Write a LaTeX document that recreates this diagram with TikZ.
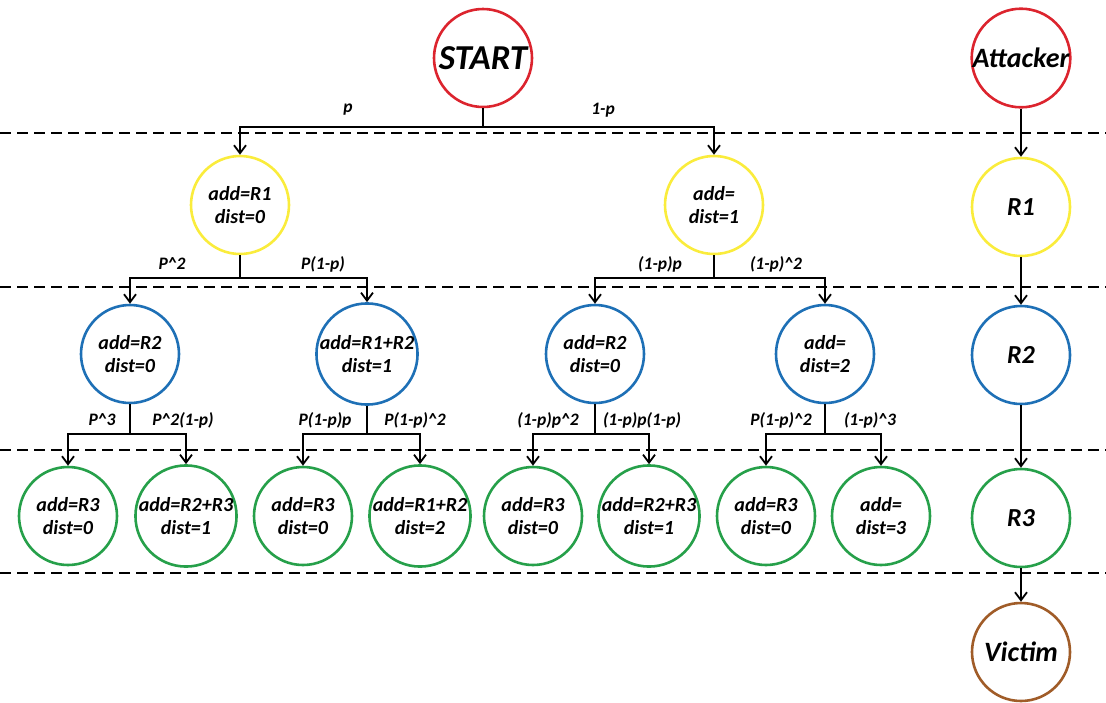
\documentclass[tikz,border=0pt]{standalone}
\usepackage{fontspec}
\setmainfont{Carlito}
\usetikzlibrary{arrows.meta}
\definecolor{cred}{RGB}{220,36,46}
\definecolor{cyel}{RGB}{250,236,60}
\definecolor{cblue}{RGB}{30,112,182}
\definecolor{cgreen}{RGB}{38,160,74}
\definecolor{cbrown}{RGB}{160,92,40}
\newcommand\crt{\textasciicircum}
\begin{document}
\begin{tikzpicture}[x=1pt,y=-1pt,
  state/.style={circle,draw,line width=2.6pt,minimum size=98pt,inner sep=0pt,
    align=center,font=\fontsize{20}{23}\selectfont\bfseries\itshape},
  big/.style={font=\fontsize{35}{35}\selectfont\bfseries\itshape},
  mid/.style={font=\fontsize{26}{26}\selectfont\bfseries\itshape},
  wide/.style={font=\fontsize{28}{28}\selectfont\bfseries\itshape},
  prob/.style={font=\fontsize{17.5}{17.5}\selectfont\bfseries\itshape},
  link/.style={line width=1.8pt},
  arr/.style={line width=1.8pt,-{Straight Barb[length=8pt,width=12pt,line width=1.8pt]}},
  sep/.style={line width=1.8pt,dash pattern=on 10.5pt off 6.5pt}]
\useasboundingbox (0,0) rectangle (1106,702);

% level separators
\foreach \yy in {133,287,450,573} \draw[sep] (0,\yy) -- (1106,\yy);

% tree nodes
\node[state,draw=cred,big] (start) at (483,58) {START};
\node[state,draw=cyel] (y1) at (240,205) {add=R1\\dist=0};
\node[state,draw=cyel] (y2) at (714,205) {add=\\dist=1};

\node[state,draw=cblue] (b1) at (130,354) {add=R2\\dist=0};
\node[state,draw=cblue] (b2) at (367,354) {add=R1+R2\\dist=1};
\node[state,draw=cblue] (b3) at (595,354) {add=R2\\dist=0};
\node[state,draw=cblue] (b4) at (825,354) {add=\\dist=2};

\node[state,draw=cgreen] (g1) at (68,516) {add=R3\\dist=0};
\node[state,draw=cgreen] (g2) at (186,516) {add=R2+R3\\dist=1};
\node[state,draw=cgreen] (g3) at (303,516) {add=R3\\dist=0};
\node[state,draw=cgreen] (g4) at (420,516) {add=R1+R2\\dist=2};
\node[state,draw=cgreen] (g5) at (533,516) {add=R3\\dist=0};
\node[state,draw=cgreen] (g6) at (649,516) {add=R2+R3\\dist=1};
\node[state,draw=cgreen] (g7) at (766,516) {add=R3\\dist=0};
\node[state,draw=cgreen] (g8) at (881,516) {add=\\dist=3};

% path column
\node[state,draw=cred,wide] (att) at (1021,58) {Attacker};
\node[state,draw=cyel,mid] (r1) at (1021,207) {R1};
\node[state,draw=cblue,mid] (r2) at (1021,355) {R2};
\node[state,draw=cgreen,mid] (r3) at (1021,518) {R3};
\node[state,draw=cbrown,wide] (vic) at (1021,652) {Victim};

% branch junctions
\coordinate (j0) at (483,127);
\coordinate (j1) at (240,278);
\coordinate (j2) at (714,278);
\coordinate (k1) at (130,434);
\coordinate (k2) at (367,434);
\coordinate (k3) at (595,434);
\coordinate (k4) at (825,434);

\draw[link] (start.south) -- (j0);
\draw[arr] (j0) -| (y1.north);
\draw[arr] (j0) -| (y2.north);

\draw[link] (y1.south) -- (j1);
\draw[arr] (j1) -| (b1.north);
\draw[arr] (j1) -| (b2.north);
\draw[link] (y2.south) -- (j2);
\draw[arr] (j2) -| (b3.north);
\draw[arr] (j2) -| (b4.north);

\draw[link] (b1.south) -- (k1);
\draw[arr] (k1) -| (g1.north);
\draw[arr] (k1) -| (g2.north);
\draw[link] (b2.south) -- (k2);
\draw[arr] (k2) -| (g3.north);
\draw[arr] (k2) -| (g4.north);
\draw[link] (b3.south) -- (k3);
\draw[arr] (k3) -| (g5.north);
\draw[arr] (k3) -| (g6.north);
\draw[link] (b4.south) -- (k4);
\draw[arr] (k4) -| (g7.north);
\draw[arr] (k4) -| (g8.north);

\draw[arr] (att) -- (r1);
\draw[arr] (r1) -- (r2);
\draw[arr] (r2) -- (r3);
\draw[arr] (r3) -- (vic);

% branch probabilities
\node[prob] (p0a) at (348,110) {p};
\node[prob] (p0b) at (603,110) {1-p};
\node[prob] (p1a) at (172,264) {P\crt2};
\node[prob] (p1b) at (323,264) {P(1-p)};
\node[prob] (p1c) at (660,264) {(1-p)p};
\node[prob] (p1d) at (776,264) {(1-p)\crt2};
\node[prob] (p2a) at (102,420) {P\crt3};
\node[prob] (p2b) at (183,420) {P\crt2(1-p)};
\node[prob] (p2c) at (325,420) {P(1-p)p};
\node[prob] (p2d) at (415,420) {P(1-p)\crt2};
\node[prob] (p2e) at (548,420) {(1-p)p\crt2};
\node[prob] (p2f) at (642,420) {(1-p)p(1-p)};
\node[prob] (p2g) at (781,420) {P(1-p)\crt2};
\node[prob] (p2h) at (870,420) {(1-p)\crt3};
\end{tikzpicture}
\end{document}
